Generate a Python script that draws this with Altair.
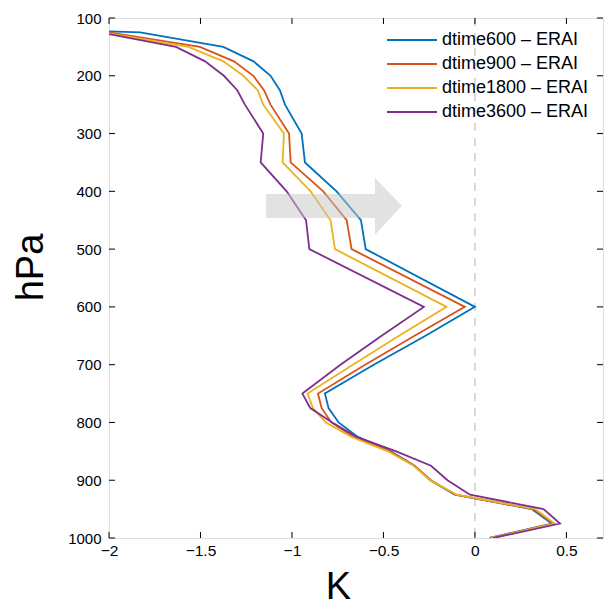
import altair as alt
import pandas as pd

# pressure levels (hPa); 100 hPa lies outside the shown x range (clipped)
levels = [100, 125, 150, 175, 200, 225, 250, 300, 350, 400, 450, 500, 600,
          650, 700, 750, 775, 800, 825, 850, 875, 900, 925, 950, 975, 1000]

dtime600 = [-4.0, -1.83, -1.375, -1.21, -1.117, -1.066, -1.038, -0.947, -0.929, -0.756, -0.623, -0.597, 0.0,
            -0.27, -0.553, -0.82, -0.80, -0.745, -0.64, -0.46, -0.33, -0.245, -0.11, 0.31, 0.42, 0.08]
dtime900 = [-4.0, -2.0, -1.503, -1.317, -1.211, -1.153, -1.117, -1.016, -1.007, -0.829, -0.701, -0.674, -0.055,
            -0.33, -0.60, -0.858, -0.838, -0.785, -0.664, -0.465, -0.33, -0.24, -0.105, 0.32, 0.43, 0.085]
dtime1800 = [-4.0, -2.03, -1.566, -1.375, -1.266, -1.187, -1.157, -1.044, -1.051, -0.898, -0.789, -0.765, -0.155,
             -0.415, -0.667, -0.915, -0.885, -0.815, -0.674, -0.475, -0.335, -0.245, -0.10, 0.33, 0.435, 0.09]
dtime3600 = [-4.0, -2.05, -1.634, -1.475, -1.372, -1.299, -1.257, -1.157, -1.171, -1.029, -0.923, -0.905, -0.279,
             -0.51, -0.735, -0.943, -0.90, -0.78, -0.647, -0.43, -0.24, -0.15, -0.027, 0.375, 0.465, 0.10]

series_names = ["dtime600 \u2013 ERAI", "dtime900 \u2013 ERAI", "dtime1800 \u2013 ERAI", "dtime3600 \u2013 ERAI"]
series_vals = [dtime600, dtime900, dtime1800, dtime3600]
colors = ["#0072BD", "#D95319", "#EDB120", "#7E2F8E"]

x_ticks = [-2, -1.5, -1, -0.5, 0, 0.5]
y_ticks = [100, 200, 300, 400, 500, 600, 700, 800, 900, 1000]

# gray arrow (K, hPa): body rectangle and triangular head
arrow_body_x = [-1.142, -0.546]
arrow_body_y = [404.5, 446]
arrow_head_x = [-0.546, -0.399]
arrow_head_ytop = [377, 425]
arrow_head_ybot = [475, 425]

rows = []
for name, vals in zip(series_names, series_vals):
    for p, v in zip(levels, vals):
        rows.append({"series": name, "p": p, "v": v})
df = pd.DataFrame(rows)

W, H = 494, 520
FONT = "Liberation Sans"

xs = alt.Scale(domain=[-2, 0.7], nice=False, zero=False)
ys = alt.Scale(domain=[100, 1000], reverse=True, nice=False, zero=False)

xaxis = alt.Axis(values=x_ticks, ticks=False, domain=False, grid=False, labelFontSize=15.5,
                 labelFont=FONT, labelColor="black", labelPadding=5, labelFlush=False,
                 format="~g",
                 title="K", titleFont=FONT, titleFontSize=38, titleFontWeight="normal",
                 titleColor="black", titleX=229, titleY=60, titleBaseline="alphabetic",
                 titleAlign="center")
yaxis = alt.Axis(values=y_ticks, ticks=False, domain=False, grid=False, labelFontSize=15,
                 labelFont=FONT, labelColor="black", labelPadding=8, labelFlush=False,
                 format="d",
                 title="hPa", titleFont=FONT, titleFontSize=38, titleFontWeight="normal",
                 titleColor="black", titleX=-67, titleY=249, titleAngle=270,
                 titleBaseline="alphabetic", titleAlign="center")

lines = alt.Chart(df).mark_line(strokeWidth=1.8, clip=True).encode(
    x=alt.X("v:Q", scale=xs, axis=xaxis),
    y=alt.Y("p:Q", scale=ys, axis=yaxis),
    color=alt.Color("series:N", sort=series_names,
                    scale=alt.Scale(domain=series_names, range=colors),
                    legend=alt.Legend(title=None, orient="none", legendX=307, legendY=11,
                                      symbolType="M-4,0H1", symbolSize=400,
                                      symbolStrokeWidth=1.8, labelFontSize=18,
                                      labelFont=FONT, labelColor="black",
                                      labelOffset=4, rowPadding=4)),
    order="p:Q",
)

zero_df = pd.DataFrame({"v": [0]})
zero_line = alt.Chart(zero_df).mark_rule(color="#b4b4b4", strokeWidth=1, strokeDash=[8, 7]).encode(
    x=alt.X("v:Q", scale=xs)
)

body_df = pd.DataFrame({"x": [arrow_body_x[0]], "x2": [arrow_body_x[1]],
                        "y": [arrow_body_y[0]], "y2": [arrow_body_y[1]]})
arrow_body = alt.Chart(body_df).mark_rect(color="#c6c6c6", opacity=0.5).encode(
    x=alt.X("x:Q", scale=xs), x2="x2:Q",
    y=alt.Y("y:Q", scale=ys), y2="y2:Q",
)
head_df = pd.DataFrame({"x": arrow_head_x, "yt": arrow_head_ytop, "yb": arrow_head_ybot})
arrow_head = alt.Chart(head_df).mark_area(color="#c6c6c6", opacity=0.5, orient="vertical").encode(
    x=alt.X("x:Q", scale=xs),
    y=alt.Y("yt:Q", scale=ys, stack=None),
    y2="yb:Q",
)

xt_df = pd.DataFrame({"v": x_ticks})
yt_df = pd.DataFrame({"p": y_ticks})
tick_len = 6
xt_bottom = alt.Chart(xt_df).mark_rule(color="black", strokeWidth=1).encode(
    x=alt.X("v:Q", scale=xs), y=alt.value(H), y2=alt.value(H - tick_len))
xt_top = alt.Chart(xt_df).mark_rule(color="black", strokeWidth=1).encode(
    x=alt.X("v:Q", scale=xs), y=alt.value(0), y2=alt.value(tick_len))
yt_left = alt.Chart(yt_df).mark_rule(color="black", strokeWidth=1).encode(
    y=alt.Y("p:Q", scale=ys), x=alt.value(0), x2=alt.value(tick_len))
yt_right = alt.Chart(yt_df).mark_rule(color="black", strokeWidth=1).encode(
    y=alt.Y("p:Q", scale=ys), x=alt.value(W), x2=alt.value(W - tick_len))

chart = alt.layer(zero_line, lines, arrow_body, arrow_head, xt_bottom, xt_top, yt_left, yt_right).properties(
    width=W, height=H,
    autosize=alt.AutoSizeParams(type="none"),
    padding={"left": 109, "top": 18, "right": 10, "bottom": 67},
).configure_view(stroke="black", strokeWidth=1).configure(background="white")

chart.save("out.html", embed_options={"renderer": "svg", "actions": False})
